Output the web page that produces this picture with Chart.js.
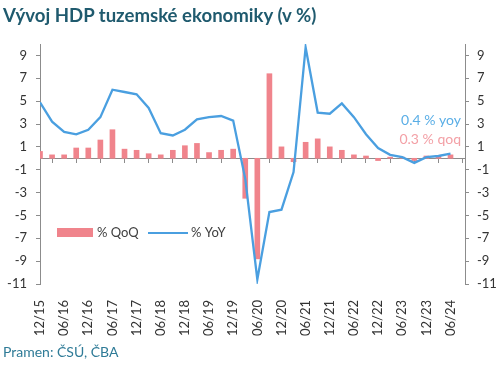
<!DOCTYPE html>
<html>
<head>
<meta charset="utf-8">
<script src="https://cdn.jsdelivr.net/npm/chart.js@4.4.1/dist/chart.umd.min.js"></script>
<style>
  body { margin: 0; background: #fff; }
  #wrap { position: relative; width: 500px; height: 368px; font-family: Lato, sans-serif; }
  #title { position: absolute; left: 3px; top: 4px; font-size: 18.6px; font-weight: bold; color: #1f5a6e; }
  #source { position: absolute; left: 3px; top: 343px; font-size: 14px; color: #2f7b97; }
  canvas { position: absolute; left: 0; top: 0; }
</style>
</head>
<body>
<div id="wrap">
  <canvas id="gdp" width="500" height="368"></canvas>
  <div id="title">Vývoj HDP tuzemské ekonomiky (v %)</div>
  <div id="source">Pramen: ČSÚ, ČBA</div>
</div>
<script>
const quarters = ['12/15', '03/16', '06/16', '09/16', '12/16', '03/17', '06/17', '09/17', '12/17',
  '03/18', '06/18', '09/18', '12/18', '03/19', '06/19', '09/19', '12/19', '03/20', '06/20', '09/20',
  '12/20', '03/21', '06/21', '09/21', '12/21', '03/22', '06/22', '09/22', '12/22', '03/23', '06/23',
  '09/23', '12/23', '03/24', '06/24'];
const qoq = [0.6, 0.3, 0.3, 0.9, 0.9, 1.6, 2.5, 0.8, 0.7, 0.4, 0.3, 0.7, 1.1, 1.3, 0.5, 0.7, 0.8,
  -3.5, -8.8, 7.4, 1.0, -0.3, 1.4, 1.7, 1.0, 0.7, 0.3, 0.2, -0.2, 0.1, 0.1, -0.2, 0.2, 0.2, 0.3];
const yoy = [4.9, 3.2, 2.3, 2.1, 2.5, 3.6, 6.0, 5.8, 5.6, 4.4, 2.2, 2.0, 2.5, 3.4, 3.6, 3.7, 3.3,
  -1.8, -10.6, -4.7, -4.5, -1.2, 9.7, 4.0, 3.9, 4.8, 3.6, 2.1, 0.9, 0.3, 0.1, -0.4, 0.1, 0.2, 0.4];
const yTicks = [-11, -9, -7, -5, -3, -1, 1, 3, 5, 7, 9];

const barColor = '#f0848c';
const lineColor = '#4a9fe0';
const axisColor = '#8c8c8c';
const tickFont = { family: 'Lato', size: 13 };

// every second quarter gets a label / tick mark
const evenTicks = s => {
  s.ticks = quarters.map((q, i) => ({ value: i })).filter(t => t.value % 2 === 0);
};
const oddTicks = s => {
  s.ticks = yTicks.map(v => ({ value: v }));
};

const legendBox = {
  id: 'legendBox',
  afterDatasetsDraw(chart) {
    const ctx = chart.ctx;
    ctx.save();
    ctx.font = '13px Lato';
    ctx.textBaseline = 'middle';
    ctx.fillStyle = barColor;
    ctx.fillRect(57, 228, 36, 9);
    ctx.fillStyle = '#404040';
    ctx.fillText('% QoQ', 97, 233);
    ctx.strokeStyle = lineColor;
    ctx.lineWidth = 2;
    ctx.beginPath();
    ctx.moveTo(148, 233);
    ctx.lineTo(188, 233);
    ctx.stroke();
    ctx.fillText('% YoY', 191, 233);

    // latest values
    ctx.font = '14px Lato';
    ctx.textAlign = 'right';
    ctx.fillStyle = '#5aaee6';
    ctx.fillText(yoy[yoy.length - 1].toFixed(1) + ' % yoy', 461, 120);
    ctx.fillStyle = '#f3a0a6';
    ctx.fillText(qoq[qoq.length - 1].toFixed(1) + ' % qoq', 461, 139);
    ctx.restore();
  }
};

new Chart(document.getElementById('gdp'), {
  type: 'bar',
  data: {
    datasets: [
      {
        type: 'line',
        label: '% YoY',
        data: yoy.map((v, i) => ({ x: i, y: v })),
        borderColor: lineColor,
        borderWidth: 2.3,
        pointRadius: 0,
        tension: 0,
        xAxisID: 'x',
        yAxisID: 'y',
        order: 1
      },
      {
        label: '% QoQ',
        data: qoq.map((v, i) => ({ x: i, y: v })),
        backgroundColor: barColor,
        barThickness: 5,
        clip: 0,
        xAxisID: 'x',
        yAxisID: 'y',
        order: 2
      }
    ]
  },
  options: {
    responsive: false,
    animation: false,
    layout: { padding: { top: 44, bottom: 32, left: 0, right: 0 } },
    plugins: { legend: { display: false }, tooltip: { enabled: false } },
    scales: {
      x: {
        type: 'linear',
        position: 'bottom',
        offset: false,
        min: 0,
        max: 35.2,
        afterBuildTicks: evenTicks,
        afterFit: s => { s.height = 52; },
        grid: { display: false },
        border: { display: false },
        ticks: {
          autoSkip: false,
          maxRotation: 90,
          minRotation: 90,
          padding: 8,
          color: '#333',
          font: tickFont,
          callback: v => quarters[v]
        }
      },
      x0: {
        type: 'linear',
        position: { y: 0 },
        offset: false,
        min: 0,
        max: 35.2,
        afterBuildTicks: evenTicks,
        grid: { drawOnChartArea: false, tickLength: 4, color: axisColor },
        border: { color: axisColor },
        ticks: { display: false }
      },
      y: {
        position: 'left',
        min: -11,
        max: 10,
        afterBuildTicks: oddTicks,
        afterFit: s => { s.width = 40; },
        grid: { drawOnChartArea: false, tickLength: 4, color: axisColor },
        border: { color: axisColor },
        ticks: { padding: 9, color: '#333', font: tickFont }
      },
      yR: {
        position: 'right',
        min: -11,
        max: 10,
        afterBuildTicks: oddTicks,
        afterFit: s => { s.width = 35; },
        grid: { drawOnChartArea: false, tickLength: 4, color: axisColor },
        border: { color: axisColor },
        ticks: { padding: 8, color: '#333', font: tickFont }
      }
    }
  },
  plugins: [legendBox]
});
</script>
</body>
</html>
